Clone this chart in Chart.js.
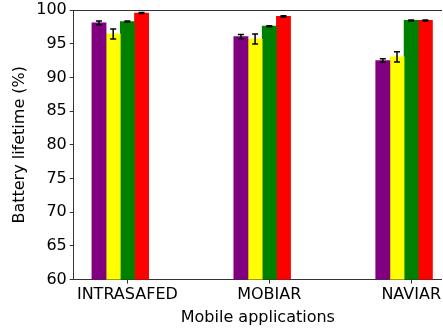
<!DOCTYPE html>
<html>
<head>
<meta charset="utf-8">
<script src="https://cdn.jsdelivr.net/npm/chart.js@4/dist/chart.umd.min.js"></script>
<style>
  body { margin: 0; background: #fff; }
  #wrap { width: 443px; height: 330px; }
</style>
</head>
<body>
<div id="wrap"><canvas id="myChart"></canvas></div>
<script>
// categories and series
const apps = ["INTRASAFED", "MOBIAR", "NAVIAR"];
const seriesA = [98.1, 96.05, 92.5];
const seriesB = [96.45, 95.7, 93.05];
const seriesC = [98.3, 97.6, 98.45];
const seriesD = [99.55, 99.05, 98.45];
const errA = [0.27, 0.3, 0.27];
const errB = [0.74, 0.75, 0.76];
const errC = [0.08, 0.08, 0.08];
const errD = [0.08, 0.08, 0.08];
const yTicks = [60, 65, 70, 75, 80, 85, 90, 95, 100];

const barW = 0.1;
const colors = ["#800080", "#ffff00", "#008000", "#ff0000"];
const allSeries = [seriesA, seriesB, seriesC, seriesD];
const allErr = [errA, errB, errC, errD];

// like matplotlib: each series shifted by a bar width
const datasets = allSeries.map(function (vals, k) {
  return {
    data: vals.map(function (v, i) { return { x: i + (k - 2) * barW, y: v }; }),
    err: allErr[k],
    backgroundColor: colors[k],
    borderWidth: 0,
    grouped: false,
    barPercentage: 1,
    categoryPercentage: 1
  };
});

const errorBars = {
  id: "errorBars",
  afterDatasetsDraw(chart) {
    const ctx = chart.ctx;
    const y = chart.scales.y;
    ctx.save();
    ctx.strokeStyle = "#000";
    ctx.lineWidth = 1.5;
    chart.data.datasets.forEach(function (ds, di) {
      const meta = chart.getDatasetMeta(di);
      meta.data.forEach(function (bar, i) {
        const v = ds.data[i].y;
        const e = ds.err[i];
        const top = y.getPixelForValue(v + e);
        const bot = y.getPixelForValue(v - e);
        ctx.beginPath();
        ctx.moveTo(bar.x, top); ctx.lineTo(bar.x, bot);
        ctx.moveTo(bar.x - 3, top); ctx.lineTo(bar.x + 3, top);
        ctx.moveTo(bar.x - 3, bot); ctx.lineTo(bar.x + 3, bot);
        ctx.stroke();
      });
    });
    // top spine
    const a = chart.chartArea;
    ctx.lineWidth = 1;
    ctx.strokeStyle = "#333";
    ctx.beginPath();
    ctx.moveTo(a.left, a.top + 0.5);
    ctx.lineTo(a.right, a.top + 0.5);
    ctx.stroke();
    ctx.restore();
  }
};

Chart.defaults.font.family = "'DejaVu Sans', sans-serif";
Chart.defaults.color = "#000";

new Chart(document.getElementById("myChart"), {
  type: "bar",
  data: { datasets: datasets },
  options: {
    responsive: true,
    maintainAspectRatio: false,
    animation: false,
    layout: { padding: { left: 10, top: 10, right: 0, bottom: 3 } },
    plugins: {
      legend: { display: false },
      tooltip: { enabled: false }
    },
    scales: {
      x: {
        type: "linear",
        offset: false,
        min: -0.378,
        max: 2.217,
        afterBuildTicks: function (axis) {
          axis.ticks = apps.map(function (a, i) { return { value: i }; });
        },
        ticks: {
          font: { size: 16 },
          padding: 2,
          maxRotation: 0,
          callback: function (value) { return apps[value]; }
        },
        grid: { offset: false, drawOnChartArea: false, drawTicks: true, tickLength: 4, color: "#333" },
        border: { display: true, color: "#333", width: 1 },
        title: { display: true, text: "Mobile applications", font: { size: 16 }, padding: { top: 1, bottom: 0 } }
      },
      y: {
        min: 60,
        max: 100,
        afterBuildTicks: function (axis) {
          axis.ticks = yTicks.map(function (v) { return { value: v }; });
        },
        ticks: { font: { size: 16, lineHeight: 0.8 }, padding: 3 },
        grid: { drawOnChartArea: false, drawTicks: true, tickLength: 4, color: "#333" },
        border: { display: true, color: "#333", width: 1 },
        title: { display: true, text: "Battery lifetime (%)", font: { size: 16 }, padding: { top: 0, bottom: 4 } }
      }
    }
  },
  plugins: [errorBars]
});
</script>
</body>
</html>
